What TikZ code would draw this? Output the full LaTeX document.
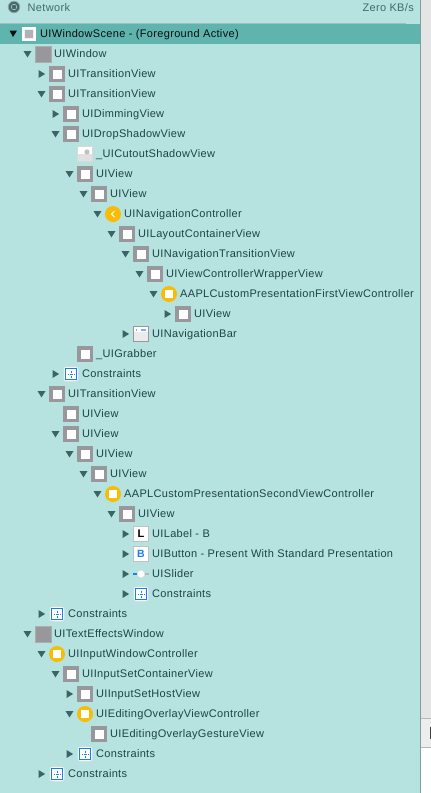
\documentclass[tikz,border=0pt]{standalone}
\usepackage{fontspec}
\setmainfont[LetterSpace=3]{Liberation Sans}
\definecolor{panelbg}{HTML}{B6E2DF}
\definecolor{selbar}{HTML}{5FB5AE}
\definecolor{rowtext}{HTML}{1D4445}
\definecolor{headtext}{HTML}{436A6A}
\definecolor{treetri}{HTML}{3B6466}
\definecolor{boxgray}{HTML}{98979C}
\definecolor{vcyellow}{HTML}{F7BC06}
\definecolor{cblue}{HTML}{1A7DF0}
\tikzset{
  rowlabel/.style={anchor=base west, inner sep=0pt, text=rowtext, font=\fontsize{11}{12}\selectfont},
  viewicon/.style={draw=boxgray, line width=3.5pt, fill=white, minimum size=12.5pt, inner sep=0pt},
  windowicon/.style={fill=boxgray, draw=boxgray!80!white, line width=0.4pt, minimum size=15.6pt, inner sep=0pt},
  sceneicon/.style={draw=white, line width=1.2pt, fill=boxgray!75!white, minimum size=12pt, inner sep=0pt,
    path picture={\draw[white!85!boxgray, line width=1pt] ([shift={(-4.5pt,-4.5pt)}]path picture bounding box.center) rectangle ([shift={(4.5pt,4.5pt)}]path picture bounding box.center);}},
  vcicon/.style={circle, fill=vcyellow, minimum size=16pt, inner sep=0pt,
    path picture={\fill[white] ([shift={(-4.2pt,-4.2pt)}]path picture bounding box.center) rectangle ([shift={(4.2pt,4.2pt)}]path picture bounding box.center);}},
  navicon/.style={circle, fill=vcyellow, minimum size=16pt, inner sep=0pt,
    path picture={\draw[white, line width=1pt] ([shift={(1.5pt,3pt)}]path picture bounding box.center) -- ([shift={(-1.5pt,0pt)}]path picture bounding box.center) -- ([shift={(1.5pt,-3pt)}]path picture bounding box.center);}},
  consicon/.style={draw=white!75!boxgray, line width=0.7pt, fill=white, rounded corners=2pt, minimum size=14pt, inner sep=0pt,
    path picture={\draw[cblue, line width=1.1pt, sharp corners] ([shift={(-5.3pt,-5.3pt)}]path picture bounding box.center) rectangle ([shift={(5.3pt,5.3pt)}]path picture bounding box.center);
      \draw[cblue, line width=0.7pt, dash pattern=on 1.2pt off 1pt] ([xshift=-3.5pt]path picture bounding box.center) -- ([xshift=3.5pt]path picture bounding box.center) ([yshift=-3.5pt]path picture bounding box.center) -- ([yshift=3.5pt]path picture bounding box.center);}},
  barpic/.style={draw=boxgray, line width=0.9pt, fill=white!92!black, minimum size=15pt, inner sep=0pt,
    path picture={\fill[white] (path picture bounding box.north west) rectangle ([yshift=-5pt]path picture bounding box.north east);
      \fill[cblue!60!white] ([shift={(7pt,-2pt)}]path picture bounding box.north west) rectangle ([shift={(12pt,-4pt)}]path picture bounding box.north west);
      \fill[cblue!60!white] ([shift={(2pt,-2pt)}]path picture bounding box.north west) rectangle ([shift={(3pt,-4pt)}]path picture bounding box.north west);}},
  cuticon/.style={draw=white!85!black, line width=0.9pt, fill=white, minimum size=15pt, inner sep=0pt,
    path picture={\fill[white!88!black] (path picture bounding box.south west) rectangle (path picture bounding box.east);
      \fill[boxgray!60!white] ([shift={(2pt,2pt)}]path picture bounding box.center) circle (2.6pt);}},
  lblicon/.style={draw=boxgray!60!white, line width=0.5pt, fill=white, minimum size=15.4pt, inner sep=0pt,
    path picture={\node[font=\fontsize{11}{12}\selectfont\bfseries, text=black, inner sep=0pt] at (path picture bounding box.center) {L};}},
  btnicon/.style={draw=boxgray!60!white, line width=0.5pt, fill=white, minimum size=15.4pt, inner sep=0pt,
    path picture={\node[font=\fontsize{10.5}{12}\selectfont\bfseries, text=cblue, inner sep=0pt] at (path picture bounding box.center) {B};}},
  slidericon/.style={circle, fill=white, draw=white!85!black, line width=0.3pt, minimum size=7.6pt, inner sep=0pt},
  neticonstyle/.style={circle, fill=headtext, draw=headtext!60!white, line width=0.8pt, minimum size=11.5pt, inner sep=0pt,
    path picture={\draw[white!70!headtext, line width=0.5pt] (path picture bounding box.center) circle (2.8pt);}},
  treedown/.pic={\fill[treetri] (-4,-3) -- (4,-3) -- (0,3.4) -- cycle;},
  treeright/.pic={\fill[treetri] (-3,-4) -- (3.6,0) -- (-3,4) -- cycle;},
  treenone/.pic={}
}
\begin{document}
\begin{tikzpicture}[x=1pt, y=-1pt]
    \useasboundingbox (0,0) rectangle (431,793);

    % Panel and side strip
    \fill[panelbg] (0,0) rectangle (420,793);
    \fill[white!90!black] (421,0) rectangle (431,718);
    \fill[white!93!black] (421,718) rectangle (431,747);
    \fill[white] (421,747) rectangle (431,793);
    \draw[white!72!black, line width=0.7pt] (421,718.5) -- (431,718.5);
    \draw[white!72!black, line width=0.7pt] (421,747.5) -- (431,747.5);
    \fill[black!75] (430,727) rectangle (431,739);
    \draw[panelbg!70!black, line width=1pt] (420.5,0) -- (420.5,793);

    % Network header
    \node[neticonstyle] (neticon) at (14,7) {};
    \node[rowlabel, text=headtext] (netlabel) at (27.5,11) {Network};
    \node[anchor=base east, inner sep=0pt, text=headtext, font=\fontsize{11}{12}\selectfont] (netrate) at (414,11) {Zero KB/s};

    % Selected scene row
    \draw[panelbg!85!black, line width=0.6pt] (0,23.5) -- (406,23.5);
    \fill[selbar] (0,24) rectangle (420,44);
    \fill[black!85!treetri] (9.5,30.5) -- (17,30.5) -- (13,37) -- cycle;
    \node[sceneicon] (icon34) at (29,34) {};
    \node[rowlabel, text=black!80!rowtext] (label34) at (40,37.8) {UIWindowScene - (Foreground Active)};

    % Tree rows: y / icon x / style / triangle / text
    \foreach \ypos/\xpos/\kind/\tri/\txt in {
      54/43/windowicon/treedown/UIWindow,
      74/57/viewicon/treeright/UITransitionView,
      94/57/viewicon/treedown/UITransitionView,
      114/71/viewicon/treeright/UIDimmingView,
      134/71/viewicon/treedown/UIDropShadowView,
      154/85/cuticon/treenone/\_UICutoutShadowView,
      174/85/viewicon/treedown/UIView,
      194/99/viewicon/treedown/UIView,
      214/113/navicon/treedown/UINavigationController,
      234/127/viewicon/treedown/UILayoutContainerView,
      254/141/viewicon/treedown/UINavigationTransitionView,
      274/155/viewicon/treedown/UIViewControllerWrapperView,
      294/169/vcicon/treedown/AAPLCustomPresentationFirstViewController,
      314/183/viewicon/treeright/UIView,
      334/141/barpic/treeright/UINavigationBar,
      354/85/viewicon/treenone/\_UIGrabber,
      374/71/consicon/treeright/Constraints,
      394/57/viewicon/treedown/UITransitionView,
      414/71/viewicon/treenone/UIView,
      434/71/viewicon/treedown/UIView,
      454/85/viewicon/treedown/UIView,
      474/99/viewicon/treedown/UIView,
      494/113/vcicon/treedown/AAPLCustomPresentationSecondViewController,
      514/127/viewicon/treedown/UIView,
      534/141/lblicon/treeright/UILabel - B,
      554/141/btnicon/treeright/UIButton - Present With Standard Presentation,
      574/141/slidericon/treeright/UISlider,
      594/141/consicon/treeright/Constraints,
      614/57/consicon/treeright/Constraints,
      634/43/windowicon/treedown/UITextEffectsWindow,
      654/57/vcicon/treedown/UIInputWindowController,
      674/71/viewicon/treedown/UIInputSetContainerView,
      694/85/viewicon/treeright/UIInputSetHostView,
      714/85/vcicon/treedown/UIEditingOverlayViewController,
      734/99/viewicon/treenone/UIEditingOverlayGestureView,
      754/85/consicon/treeright/Constraints,
      774/57/consicon/treeright/Constraints} {
        \pic at (\xpos-15.5,\ypos) {\tri};
        \node[\kind] (icon\ypos) at (\xpos,\ypos) {};
        \node[rowlabel] (label\ypos) at (\xpos+11,\ypos+3.8) {\txt};
    }

    % Slider track
    \draw[cblue, line width=1.2pt] (133,574) -- (icon574.west);
    \draw[boxgray!70!white, line width=1.2pt] (icon574.east) -- (149,574);
\end{tikzpicture}
\end{document}
